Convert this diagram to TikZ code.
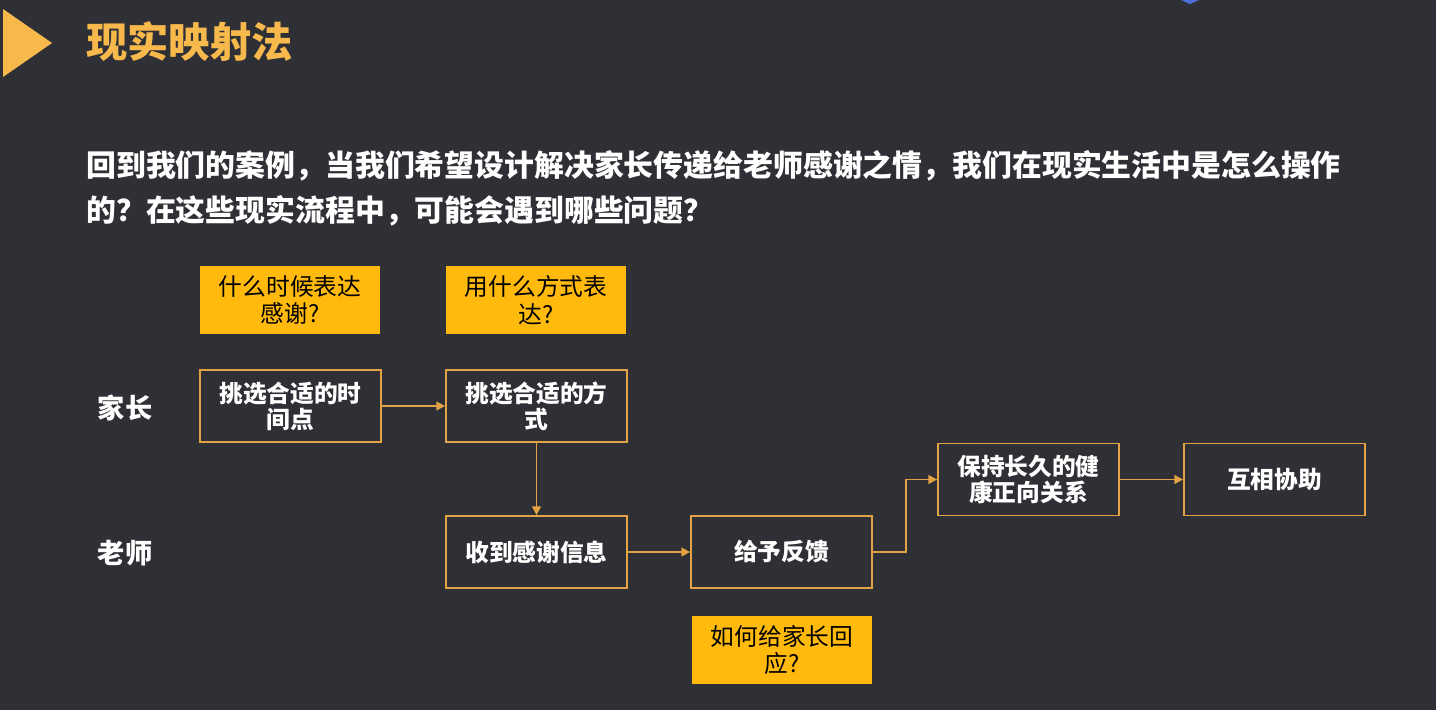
\documentclass[tikz,border=0pt]{standalone}
\usepackage{fontspec}
\setmainfont{Noto Sans CJK SC}
\usetikzlibrary{arrows.meta, positioning}
\definecolor{SlideBg}{HTML}{2F3036}
\definecolor{TitleOrange}{HTML}{F8B94C}
\definecolor{AskYellow}{HTML}{FFBA0D}
\definecolor{FlowOrange}{HTML}{E3A244}
\definecolor{MarkBlue}{HTML}{4C6FDA}

\begin{document}
\begin{tikzpicture}[x=0.02cm, y=-0.02cm,
    stepbox/.style={draw=FlowOrange, line width=1pt, fill=SlideBg, text=white, minimum width=3.62cm, minimum height=1.44cm, align=center, inner sep=0pt, font=\bfseries\fontsize{13.5}{14.7}\selectfont},
    askbox/.style={fill=AskYellow, text=black, minimum width=3.6cm, minimum height=1.36cm, align=center, inner sep=0pt, font=\fontsize{13.5}{15.8}\selectfont},
    rolelabel/.style={text=white, font=\bfseries\fontsize{15.5}{18}\selectfont},
    flow/.style={draw=FlowOrange, line width=1pt, -{Triangle[length=5pt,width=5pt]}}]
        % Slide background
        \fill[SlideBg] (0,0) rectangle (1436,710);
        \useasboundingbox (0,0) rectangle (1436,710);
        \fill[MarkBlue] (1181,0) -- (1190,4) -- (1199,0) -- cycle;

        % Title
        \fill[TitleOrange] (3,9) -- (52,43) -- (3,77) -- cycle;
        \node[anchor=west, inner sep=0pt, text=TitleOrange, font=\bfseries\fontsize{23.5}{27}\selectfont] (title) at (86,42) {现实映射法};

        % Question
        \node[anchor=west, inner sep=0pt, text=white, align=left, font=\bfseries\fontsize{17}{25.5}\selectfont] (question) at (86,188)
            {回到我们的案例，当我们希望设计解决家长传递给老师感谢之情，我们在现实生活中是怎么操作\\的？在这些现实流程中，可能会遇到哪些问题？};

        % Roles
        \node[rolelabel] (parent) at (125,408) {家长};
        \node[rolelabel] (teacher) at (125,553) {老师};

        % Questions in yellow
        \node[askbox] (whenAsk) at (290,300) {什么时候表达\\感谢?};
        \node[askbox] (howAsk) at (536,300) {用什么方式表\\达?};
        \node[askbox] (replyAsk) at (782,650) {如何给家长回\\应?};

        % Steps
        \node[stepbox] (pickTime) at (290.5,406) {挑选合适的时\\间点};
        \node[stepbox] (pickWay) at (536.5,406) {挑选合适的方\\式};
        \node[stepbox] (receive) at (536.5,552) {收到感谢信息};
        \node[stepbox] (feedback) at (781.5,552) {给予反馈};
        \node[stepbox] (keepUp) at (1028.5,479.5) {保持长久的健\\康正向关系};
        \node[stepbox] (mutual) at (1274.5,479.5) {互相协助};

        % Connectors
        \draw[flow] (pickTime) -- (pickWay);
        \draw[flow] (pickWay) -- (receive);
        \draw[flow] (receive) -- (feedback);
        \draw[flow] (feedback.east) -- ++(33,0) |- (keepUp.west);
        \draw[flow] (keepUp) -- (mutual);
    \end{tikzpicture}
\end{document}
